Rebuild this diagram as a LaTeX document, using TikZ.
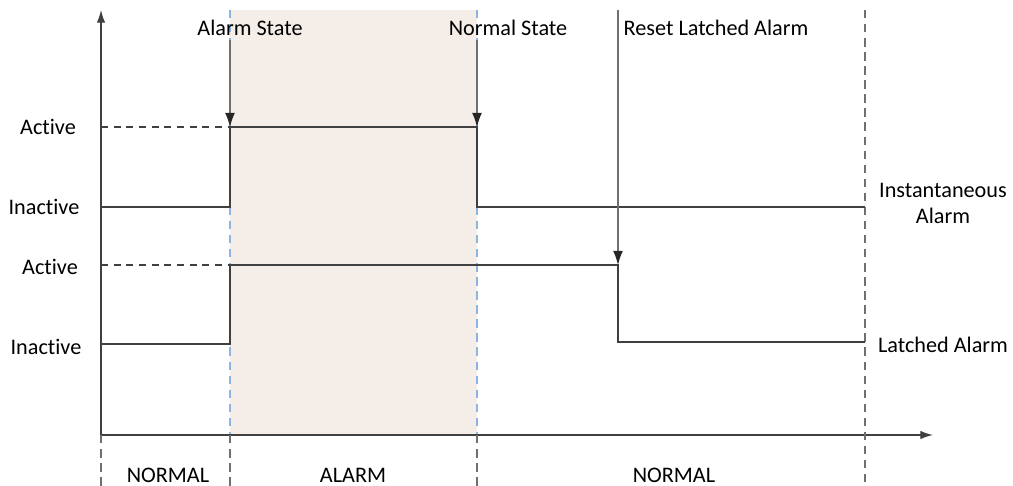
\documentclass[tikz,border=0pt]{standalone}
\usepackage{fontspec}
\setmainfont[Ligatures=NoCommon]{Carlito}
\usetikzlibrary{positioning, calc, arrows.meta}
\definecolor{Line}{HTML}{404040}
\definecolor{Grid}{HTML}{707070}
\definecolor{Shade}{HTML}{F5EDE8}
\definecolor{Edge}{HTML}{8DB4E2}
\tikzset{
    lbl/.style={inner sep=1pt, align=center, font=\fontsize{15.8}{18.5}\selectfont, text=black},
    sig/.style={Line, line width=0.8pt},
    axis/.style={-{Latex[length=9pt, width=6pt]}, Line, line width=0.9pt},
    mark line/.style={-{Latex[length=10pt, width=7pt, fill=black!85, color=black!85]}, Grid, line width=0.9pt},
    guide/.style={Grid, line width=0.9pt, dash pattern=on 6pt off 4pt},
    edge/.style={Edge, line width=1pt, dash pattern=on 6pt off 4pt},
    level/.style={Line, line width=0.8pt, dash pattern=on 5pt off 4pt},
}
\begin{document}
\begin{tikzpicture}[x=0.025cm, y=-0.025cm]
                \useasboundingbox (0,0) rectangle (1013,486);

                % Alarm period (shaded)
                \fill[Shade] (230,10) rectangle (477,435);
                \draw[edge] (230,10) -- (230,435);
                \draw[edge] (477,10) -- (477,435);

                % Axes
                \coordinate (O) at (101,435);
                \coordinate (Ytop) at (101,10);
                \coordinate (Xend) at (933,435);
                \draw[axis] (O) -- (Ytop);
                \draw[axis] (O) -- (Xend);

                % Phase separators
                \draw[guide] (101,435) -- (101,486);
                \draw[guide] (230,435) -- (230,486);
                \draw[guide] (477,435) -- (477,486);
                \draw[guide] (865,10) -- (865,486);

                % Level labels
                \node[lbl] (act1) at (48,127) {Active};
                \node[lbl] (ina1) at (44,207) {Inactive};
                \node[lbl] (act2) at (50,267) {Active};
                \node[lbl] (ina2) at (46,347) {Inactive};

                % Instantaneous alarm
                \coordinate (i0) at (101,207);
                \coordinate (i1) at (230,207);
                \coordinate (i2) at (230,127);
                \coordinate (i3) at (477,127);
                \coordinate (i4) at (477,207);
                \coordinate (i5) at (865,207);
                \draw[level] (101,127) -- (i2);
                \draw[sig] (i0) -- (i1) -- (i2) -- (i3) -- (i4) -- (i5);

                % Latched alarm
                \coordinate (l0) at (101,344);
                \coordinate (l1) at (230,344);
                \coordinate (l2) at (230,265);
                \coordinate (l3) at (618,265);
                \coordinate (l4) at (618,342);
                \coordinate (l5) at (865,342);
                \draw[level] (101,265) -- (l2);
                \draw[sig] (l0) -- (l1) -- (l2) -- (l3) -- (l4) -- (l5);

                % Events
                \node[lbl] (alarm) at (250,28) {Alarm State};
                \node[lbl] (normal) at (508,28) {Normal State};
                \node[lbl] (reset) at (716,28) {Reset Latched Alarm};
                \draw[mark line] (230,40) -- (i2);
                \draw[mark line] (477,40) -- (i3);
                \draw[mark line] (618,10) -- (l3);

                % Signal names
                \node[lbl] (inst) at (943,203) {Instantaneous\\Alarm};
                \node[lbl] (latch) at (943,345) {Latched Alarm};

                % Phases
                \node[lbl] (ph1) at (168,475) {NORMAL};
                \node[lbl] (ph2) at (353,475) {ALARM};
                \node[lbl] (ph3) at (674,475) {NORMAL};
            \end{tikzpicture}
\end{document}
